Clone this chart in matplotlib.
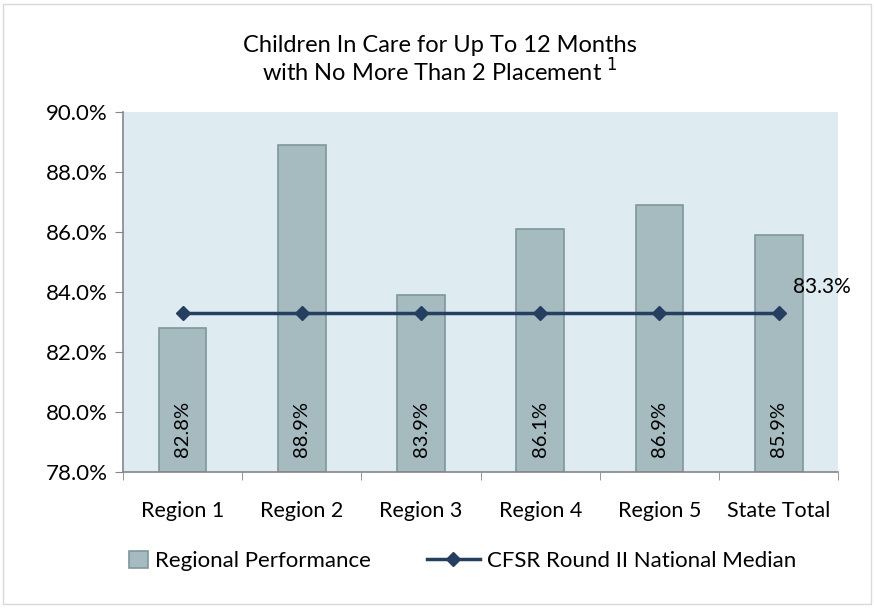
import matplotlib.pyplot as plt
from matplotlib.patches import Rectangle
from matplotlib.ticker import FuncFormatter

categories = ["Region 1", "Region 2", "Region 3", "Region 4", "Region 5", "State Total"]
regional = [82.8, 88.9, 83.9, 86.1, 86.9, 85.9]
national_median = [83.3, 83.3, 83.3, 83.3, 83.3, 83.3]

plt.rcParams['font.family'] = ['Lato', 'DejaVu Sans']

fig = plt.figure(figsize=(8.74, 6.08), dpi=100)
ax = fig.add_axes([0.1407, 0.2237, 0.8185, 0.5921])

# frame round the whole chart
fig.patches.append(Rectangle((0.004, 0.006), 0.992, 0.988, transform=fig.transFigure,
                             fill=False, edgecolor="#d9d9d9", linewidth=1))

ax.set_facecolor("#deebf1")
x = list(range(len(categories)))

bars = ax.bar(x, [v - 78 for v in regional], bottom=78, width=0.40,
              color="#a5bbc0", edgecolor="#7f969b", linewidth=1.2,
              label="Regional Performance", zorder=2)
line, = ax.plot(x, national_median, color="#243f60", linewidth=2.5, marker="D",
                markersize=7, label="CFSR Round II National Median", zorder=3)

for xi, v in zip(x, regional):
    ax.text(xi, 78.5, f"{v:.1f}%", rotation=90, ha="center", va="bottom",
            fontsize=14.5, color="black", zorder=4)
ax.text(x[-1] + 0.12, national_median[-1] + 0.87, f"{national_median[-1]:.1f}%",
        ha="left", va="center", fontsize=15, zorder=4)

ax.set_xlim(-0.5, len(categories) - 0.5)
ax.set_ylim(78, 90)
ax.set_yticks([78, 80, 82, 84, 86, 88, 90])
ax.yaxis.set_major_formatter(FuncFormatter(lambda v, p: f"{v:.1f}%"))
ax.set_xticks(x)
ax.set_xticklabels(categories)
ax.set_xticks([i + 0.5 for i in range(-1, len(categories))], minor=True)
ax.tick_params(axis="x", which="major", length=0, pad=21, labelsize=15.5)
ax.tick_params(axis="x", which="minor", length=6, color="#868686", direction="out")
ax.tick_params(axis="y", length=6, color="#868686", direction="out", labelsize=16, pad=5)

for side in ["top", "right"]:
    ax.spines[side].set_visible(False)
for side in ["left", "bottom"]:
    ax.spines[side].set_color("#868686")
    ax.spines[side].set_linewidth(1.2)

fig.text(0.503, 0.925, "Children In Care for Up To 12 Months", ha="center", va="center",
         fontsize=17)
fig.text(0.503, 0.881, "with No More Than 2 Placement $^{1}$", ha="center", va="center",
         fontsize=17)

# two legends so the bar swatch stays square and the line handle stays long
leg1 = fig.legend(handles=[bars], loc="center left", bbox_to_anchor=(0.148, 0.077),
                  frameon=False, fontsize=16, handlelength=0.85, handleheight=0.8,
                  handletextpad=0.3, borderaxespad=0, borderpad=0)
leg2 = fig.legend(handles=[line], loc="center left", bbox_to_anchor=(0.488, 0.077),
                  frameon=False, fontsize=16, handlelength=2.4,
                  handletextpad=0.3, borderaxespad=0, borderpad=0)

fig.savefig("out.png", dpi=100)
